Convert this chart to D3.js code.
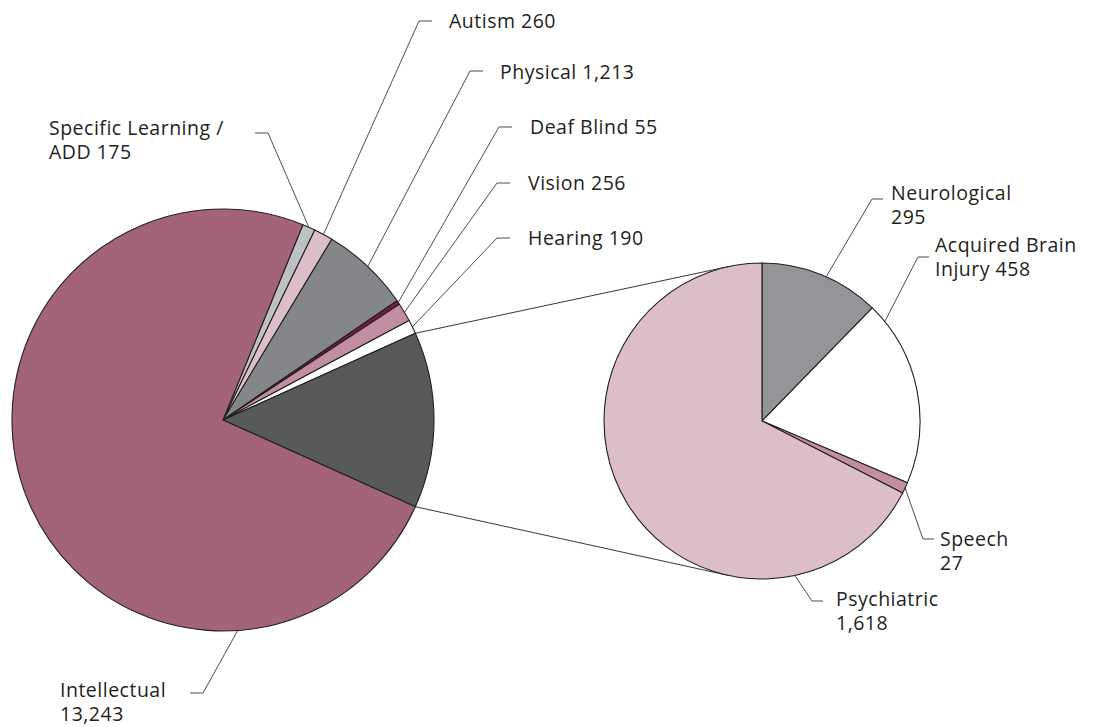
<!DOCTYPE html>
<html>
<head>
<meta charset="utf-8">
<script src="https://cdn.jsdelivr.net/npm/d3@7"></script>
<style>
  body { margin: 0; background: #fff; }
  svg { display: block; }
  .label { font-family: "Open Sans", sans-serif; font-size: 19.5px; letter-spacing: 0.5px; fill: #231f20; }
</style>
</head>
<body>
<div id="chart"></div>
<script>
// main pie
const mainNames = ["Specific Learning / ADD", "Autism", "Physical", "Deaf Blind", "Vision", "Hearing", "Other", "Intellectual"]
const mainValues = [175, 260, 1213, 55, 256, 190, null, 13243]
const mainColors = ["#bfc0c3", "#dcbec8", "#858689", "#7a1a46", "#c18fa1", "#ffffff", "#58595b", "#a36378"]

// breakout pie (the "Other" slice)
const subNames = ["Neurological", "Acquired Brain Injury", "Speech", "Psychiatric"]
const subValues = [295, 458, 27, 1618]
const subColors = ["#939598", "#ffffff", "#c18fa1", "#dcbec8"]

const otherTotal = d3.sum(subValues)
mainValues[6] = otherTotal

// label text lines
const mainLabels = [["Specific Learning /", "ADD 175"], ["Autism 260"], ["Physical 1,213"], ["Deaf Blind 55"], ["Vision 256"], ["Hearing 190"], null, ["Intellectual", "13,243"]]
const subLabels = [["Neurological", "295"], ["Acquired Brain", "Injury 458"], ["Speech", "27"], ["Psychiatric", "1,618"]]

function drawChart() {
    const width = 1095
    const height = 727
    const main = { cx: 223, cy: 420, r: 211 }
    const sub = { cx: 762, cy: 421, r: 158 }
    const ink = "#231f20"

    // label layout: text x, first baseline, elbow point, tick direction, leader angle (deg, null = slice middle)
    const mainLayout = [
        { tx: 49, ty: 135, ex: 268, ey: 133, tick: -13, angle: null },
        { tx: 449, ty: 28, ex: 419, ey: 21, tick: 13, angle: null },
        { tx: 500, ty: 79, ex: 470, ey: 71, tick: 13, angle: null },
        { tx: 530, ty: 134, ex: 499, ey: 127, tick: 13, angle: null },
        { tx: 528, ty: 190, ex: 497, ey: 183, tick: 13, angle: null },
        { tx: 528, ty: 245, ex: 497, ey: 238, tick: 13, angle: null },
        null,
        { tx: 60, ty: 697, ex: 203, ey: 693, tick: -13, angle: 176 }
    ]
    const subLayout = [
        { tx: 891, ty: 200, ex: 872, ey: 199, tick: 11, angle: 24 },
        { tx: 935, ty: 252, ex: 918, ey: 257, tick: 11, angle: 51 },
        { tx: 940, ty: 546, ex: 923, ey: 539, tick: 11, angle: null },
        { tx: 836, ty: 606, ex: 812, ey: 601, tick: 11, angle: 168 }
    ]

    const svg = d3.select("#chart").append("svg")
        .attr("width", width)
        .attr("height", height)

    svg.append("rect").attr("width", width).attr("height", height).attr("fill", "#fff")

    // rotate main pie so the "Other" slice is centred on the right
    const total = d3.sum(mainValues)
    const before = d3.sum(mainValues.slice(0, 6))
    const start = Math.PI / 2 - (before + otherTotal / 2) / total * 2 * Math.PI

    const mainArcs = d3.pie().sort(null).value(d => d)
        .startAngle(start).endAngle(start + 2 * Math.PI)(mainValues)
    const subArcs = d3.pie().sort(null).value(d => d)(subValues)

    const mainArc = d3.arc().innerRadius(0).outerRadius(main.r)
    const subArc = d3.arc().innerRadius(0).outerRadius(sub.r)

    // connector lines: Other slice edges -> tangent points of the breakout pie
    const other = mainArcs[6]
    const edgePoint = (p, a) => [p.cx + p.r * Math.sin(a), p.cy - p.r * Math.cos(a)]
    const tangent = (pt, upper) => {
        const dx = sub.cx - pt[0], dy = sub.cy - pt[1]
        const d = Math.hypot(dx, dy)
        const off = Math.asin(sub.r / d)
        const dir = Math.atan2(dy, dx) + (upper ? -off : off)
        const len = Math.sqrt(d * d - sub.r * sub.r)
        return [pt[0] + len * Math.cos(dir), pt[1] + len * Math.sin(dir)]
    }
    const topStart = edgePoint(main, other.startAngle)
    const botStart = edgePoint(main, other.endAngle)
    const connectors = [[topStart, tangent(topStart, true)], [botStart, tangent(botStart, false)]]

    svg.selectAll(".connector")
        .data(connectors)
        .join("line")
            .attr("class", "connector")
            .attr("x1", d => d[0][0]).attr("y1", d => d[0][1])
            .attr("x2", d => d[1][0]).attr("y2", d => d[1][1])
            .attr("stroke", ink)
            .attr("stroke-width", 0.9)

    svg.append("g")
        .attr("transform", `translate(${main.cx},${main.cy})`)
        .selectAll("path")
        .data(mainArcs)
        .join("path")
            .attr("d", mainArc)
            .attr("fill", (d, i) => mainColors[i])
            .attr("stroke", ink)
            .attr("stroke-width", 1.1)
            .attr("stroke-linejoin", "round")

    svg.append("g")
        .attr("transform", `translate(${sub.cx},${sub.cy})`)
        .selectAll("path")
        .data(subArcs)
        .join("path")
            .attr("d", subArc)
            .attr("fill", (d, i) => subColors[i])
            .attr("stroke", ink)
            .attr("stroke-width", 1.1)
            .attr("stroke-linejoin", "round")

    function drawLabels(arcs, layout, labels, p) {
        arcs.forEach((a, i) => {
            const lay = layout[i]
            if (!lay) return
            const ang = lay.angle === null ? (a.startAngle + a.endAngle) / 2 : lay.angle * Math.PI / 180
            const tip = edgePoint(p, ang)
            svg.append("polyline")
                .attr("points", [tip, [lay.ex, lay.ey], [lay.ex + lay.tick, lay.ey]].map(q => q.join(",")).join(" "))
                .attr("fill", "none")
                .attr("stroke", ink)
                .attr("stroke-width", 0.8)
            const t = svg.append("text")
                .attr("class", "label")
                .attr("x", lay.tx)
                .attr("y", lay.ty)
            labels[i].forEach((line, j) => {
                t.append("tspan").attr("x", lay.tx).attr("dy", j === 0 ? 0 : 24).text(line)
            })
        })
    }
    drawLabels(mainArcs, mainLayout, mainLabels, main)
    drawLabels(subArcs, subLayout, subLabels, sub)
}

drawChart()
</script>
</body>
</html>
